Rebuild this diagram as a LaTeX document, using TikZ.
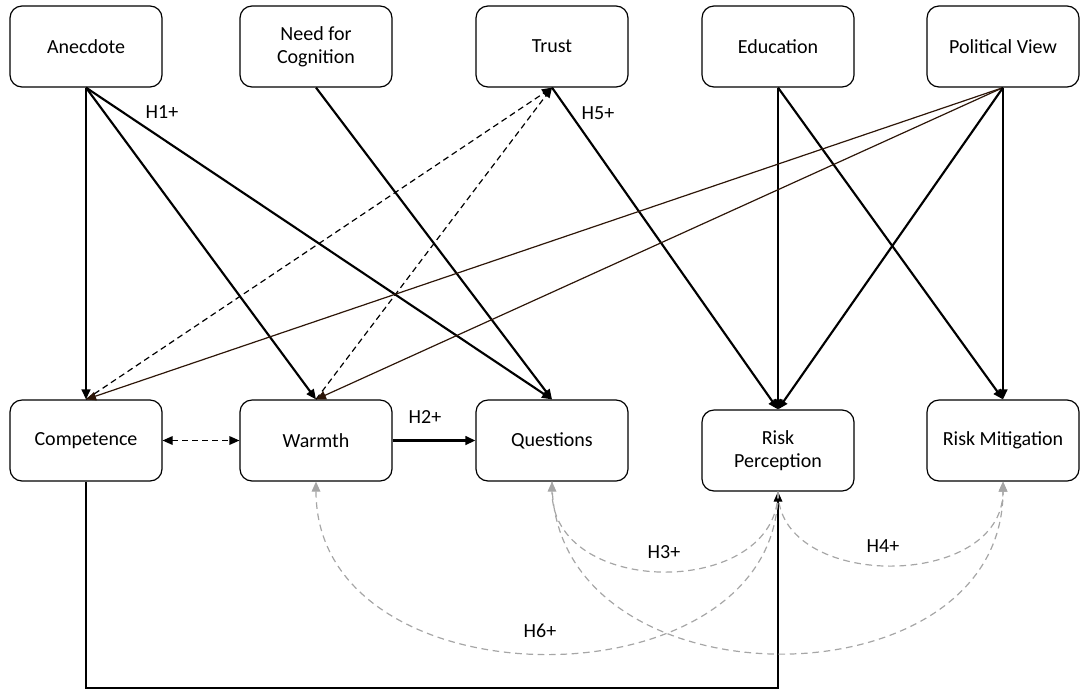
\documentclass[tikz,border=0pt]{standalone}
\usepackage{fontspec}
\setmainfont{Carlito}
\usetikzlibrary{arrows.meta}

\definecolor{hypgrey}{RGB}{166,166,166}
\definecolor{pvbrown}{RGB}{45,22,8}

\tikzset{every picture/.style={line width=0.75pt}}
\tikzset{
  varbox/.style={draw, line width=0.9pt, rounded corners=9pt, minimum width=114pt, minimum height=60.75pt, align=center, inner sep=2pt, font=\fontsize{15}{17.5}\selectfont},
  hlabel/.style={inner sep=0.75pt, font=\fontsize{15}{17.5}\selectfont},
  tip/.style={-{Triangle[length=7.5pt,width=6.5pt]}},
  bold path/.style={tip, line width=1.6pt},
  thin path/.style={tip, line width=0.9pt},
  corr path/.style={tip, line width=0.9pt, dash pattern=on 4.5pt off 3pt},
  both tips/.style={{Triangle[length=7.5pt,width=6.5pt]}-{Triangle[length=7.5pt,width=6.5pt]}},
  hyp curve/.style={-{Triangle[length=7.5pt,width=6.5pt]}, hypgrey, line width=0.9pt, dash pattern=on 5pt off 3.5pt}
}

\begin{document}
\begin{tikzpicture}[x=0.75pt,y=0.75pt,yscale=-1,xscale=1]
\useasboundingbox (0,0) rectangle (1087,690);

%Shape: Rounded Rectangles, top row
\node [varbox] (anec) at (86,46.5) {Anecdote};
\node [varbox] (nfc) at (316,46.5) {Need for\\Cognition};
\node [varbox] (trust) at (552,46.5) {Trust};
\node [varbox] (edu) at (778,46.5) {Education};
\node [varbox] (pol) at (1003,46.5) {Political View};
%Shape: Rounded Rectangles, bottom row
\node [varbox] (comp) at (86,440.5) {Competence};
\node [varbox] (warm) at (316,440.5) {Warmth};
\node [varbox] (ques) at (552,440.5) {Questions};
\node [varbox] (risk) at (778,450.5) {Risk\\Perception};
\node [varbox] (miti) at (1003,440.5) {Risk Mitigation};

%Straight Lines [from Anecdote]
\draw [bold path] (anec.south) -- (comp.north);
\draw [bold path] (anec.south) -- (warm.north);
\draw [bold path] (anec.south) -- (ques.north);
%Straight Lines [from Need for Cognition]
\draw [bold path] (nfc.south) -- (ques.north);
%Straight Lines [to Trust]
\draw [corr path] (comp.north) -- (trust.south);
\draw [corr path] (warm.north) -- (trust.south);
%Straight Lines [from Trust]
\draw [bold path] (trust.south) -- (risk.north);
%Straight Lines [from Education]
\draw [bold path] (edu.south) -- (risk.north);
\draw [bold path] (edu.south) -- (miti.north);
%Straight Lines [from Political View]
\draw [thin path, pvbrown] (pol.south) -- (comp.north);
\draw [thin path, pvbrown] (pol.south) -- (warm.north);
\draw [bold path] (pol.south) -- (risk.north);
\draw [bold path] (pol.south) -- (miti.north);
%Straight Lines [middle row]
\draw [corr path, both tips] (comp.east) -- (warm.west);
\draw [bold path] (warm.east) -- (ques.west);
%Straight Lines [Competence to Risk Perception]
\coordinate (base) at (778,688);
\draw [thin path] (comp.south) |- (base) -- (risk.south);

%Curve Lines [grey hypotheses]
\draw [hyp curve] (risk.south) .. controls (778,599) and (552,599) .. (ques.south);
\draw [hyp curve] (risk.south) .. controls (778,591) and (1003,591) .. (miti.south);
\draw [hyp curve] (risk.south) .. controls (778,709) and (316,709) .. (warm.south);
\draw [hyp curve] (ques.south) .. controls (552,710) and (1003,710) .. (miti.south);

% Text Node
\node [hlabel] (h1) at (162,112) {H1+};
% Text Node
\node [hlabel] (h5) at (598,113) {H5+};
% Text Node
\node [hlabel] (h2) at (425,417) {H2+};
% Text Node
\node [hlabel] (h3) at (664,552) {H3+};
% Text Node
\node [hlabel] (h4) at (883,546) {H4+};
% Text Node
\node [hlabel] (h6) at (540,631) {H6+};

\end{tikzpicture}
\end{document}
